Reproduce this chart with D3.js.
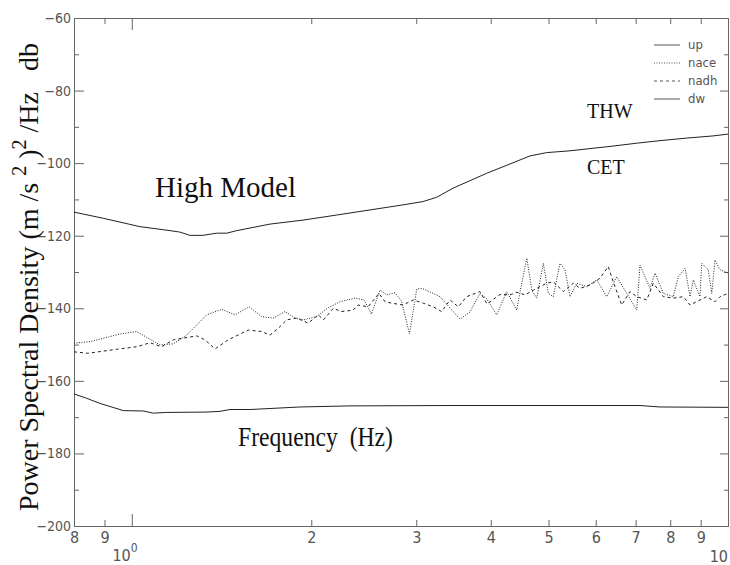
<!DOCTYPE html>
<html>
<head>
<meta charset="utf-8">
<script src="https://cdn.jsdelivr.net/npm/d3@7"></script>
<style>
  body { margin: 0; background: #fff; }
  svg { display: block; }
  .tick text { font-family: "Liberation Sans Narrow", "DejaVu Sans Condensed", sans-serif; fill: #555; }
  .note { font-family: "Liberation Serif", "Times New Roman", serif; fill: #111; }
</style>
</head>
<body>
<div id="chart"></div>
<script>
// High Model (up)
const upFreq = [0.8, 0.896, 1.032, 1.159, 1.204, 1.252, 1.316, 1.388, 1.443, 1.5, 1.705, 1.937, 2.207, 2.509, 2.85, 3.079, 3.246, 3.458, 3.938, 4.359, 4.656, 4.965, 5.433, 5.937, 6.414, 7.03, 7.691, 8.523, 9.437, 10];
const upDb = [-113.5, -115.2, -117.5, -118.6, -119.0, -119.9, -119.9, -119.3, -119.3, -118.6, -116.8, -115.7, -114.3, -112.9, -111.5, -110.6, -109.4, -106.9, -102.8, -99.9, -98.0, -97.1, -96.6, -95.9, -95.3, -94.5, -93.8, -93.1, -92.5, -92.0];

// nace (dotted)
const naceFreq = [0.8, 0.851, 0.955, 1.019, 1.059, 1.115, 1.174, 1.236, 1.336, 1.415, 1.49, 1.573, 1.652, 1.727, 1.807, 1.878, 1.94, 2.042, 2.133, 2.235, 2.368, 2.452, 2.523, 2.608, 2.679, 2.764, 2.834, 2.923, 3.006, 3.067, 3.204, 3.288, 3.552, 3.692, 3.837, 3.938, 4.093, 4.255, 4.423, 4.48, 4.568, 4.598, 4.687, 4.778, 4.901, 4.997, 5.093, 5.226, 5.328, 5.433, 5.575, 5.794, 6.023, 6.26, 6.507, 6.764, 7.03, 7.119, 7.4, 7.544, 7.79, 8.097, 8.254, 8.472, 8.637, 8.747, 8.975, 9.035, 9.268, 9.391, 9.511, 9.696, 9.886, 10];
const naceDb = [-149.6, -149.2, -147.1, -146.4, -148.0, -150.1, -149.8, -147.4, -141.8, -140.3, -141.8, -139.6, -142.3, -142.7, -140.9, -142.7, -143.2, -142.3, -139.9, -138.2, -137.2, -137.7, -141.6, -135.0, -136.3, -135.7, -138.0, -147.1, -134.7, -134.5, -135.9, -136.8, -143.0, -141.0, -135.9, -137.4, -141.8, -135.4, -140.5, -135.4, -128.5, -126.2, -135.0, -137.2, -127.6, -135.9, -136.8, -127.6, -129.4, -136.8, -133.1, -134.0, -132.2, -136.8, -131.3, -135.9, -140.5, -128.1, -134.5, -130.3, -135.9, -136.8, -131.3, -129.0, -136.8, -132.2, -136.8, -127.6, -129.4, -135.9, -126.7, -129.4, -129.9, -130.3];

// nadh (dashed)
const nadhFreq = [0.8, 0.844, 0.943, 1.019, 1.073, 1.122, 1.174, 1.285, 1.327, 1.379, 1.451, 1.568, 1.652, 1.705, 1.761, 1.819, 1.891, 1.977, 2.055, 2.096, 2.178, 2.246, 2.352, 2.395, 2.49, 2.598, 2.659, 2.732, 2.85, 2.966, 3.083, 3.204, 3.31, 3.418, 3.529, 3.645, 3.837, 3.943, 4.146, 4.309, 4.423, 4.568, 4.716, 4.839, 4.965, 5.093, 5.295, 5.503, 5.648, 5.87, 6.101, 6.298, 6.421, 6.632, 6.848, 7.03, 7.306, 7.495, 7.79, 8.097, 8.414, 8.637, 8.975, 9.211, 9.511, 9.696, 10];
const nadhDb = [-152.0, -152.4, -151.3, -150.6, -149.5, -150.6, -148.7, -147.6, -148.7, -151.2, -148.7, -146.0, -146.4, -147.4, -145.5, -143.2, -142.7, -144.1, -141.8, -143.2, -140.0, -140.9, -140.5, -139.1, -139.6, -135.9, -138.2, -138.6, -139.1, -137.7, -138.6, -139.6, -140.9, -137.7, -139.6, -136.8, -135.4, -138.8, -136.2, -136.3, -135.6, -136.3, -135.0, -134.0, -133.1, -132.7, -135.4, -133.1, -134.5, -133.6, -131.7, -128.5, -132.7, -139.1, -135.4, -136.8, -137.7, -133.1, -136.8, -137.2, -136.8, -139.1, -137.7, -136.8, -138.2, -136.8, -135.9];

// Low Model (dw)
const dwFreq = [0.8, 0.84, 0.884, 0.968, 1.045, 1.087, 1.144, 1.336, 1.406, 1.461, 1.578, 1.915, 2.323, 3.418, 5.029, 7.119, 7.691, 10];
const dwDb = [-163.6, -164.8, -166.2, -168.2, -168.3, -168.9, -168.7, -168.6, -168.4, -167.9, -167.9, -167.2, -166.9, -166.8, -166.8, -166.8, -167.2, -167.3];

const xTicks = [0.8, 0.9, 1, 2, 3, 4, 5, 6, 7, 8, 9, 10];
const xTickLabels = ["8", "9", "", "2", "3", "4", "5", "6", "7", "8", "9", ""];
const yMajor = [-200, -180, -160, -140, -120, -100, -80, -60];
const yMinor = [-190, -170, -150, -130, -110, -90, -70];
const legendNames = ["up", "nace", "nadh", "dw"];
const legendDash = [null, "1,1.5", "3,3", null];

const width = 730, height = 565;
const plotLeft = 74, plotRight = 728, plotTop = 18, plotBottom = 526;

const svg = d3.select("#chart").append("svg")
  .attr("width", width)
  .attr("height", height);

const x = d3.scaleLog().domain([0.8, 10]).range([plotLeft, plotRight]);
const y = d3.scaleLinear().domain([-200, -60]).range([plotBottom, plotTop]);

// frame axes
function styleAxis(g) {
  g.select(".domain").attr("stroke", "#666");
  g.selectAll(".tick line").attr("stroke", "#666");
}

const xAxisB = svg.append("g")
  .attr("transform", `translate(0,${plotBottom})`)
  .call(d3.axisBottom(x).tickValues(xTicks).tickSize(-6).tickSizeOuter(0).tickPadding(6)
    .tickFormat((d, i) => xTickLabels[i]))
  .call(styleAxis);
xAxisB.selectAll(".tick text").attr("font-size", 16);
xAxisB.selectAll(".tick line").filter(d => d === 1).attr("y2", -12);

const xAxisT = svg.append("g")
  .attr("transform", `translate(0,${plotTop})`)
  .call(d3.axisTop(x).tickValues(xTicks).tickSize(-6).tickSizeOuter(0).tickFormat(""))
  .call(styleAxis);
xAxisT.selectAll(".tick line").filter(d => d === 1).attr("y2", 12);

const yAxisL = svg.append("g")
  .attr("transform", `translate(${plotLeft},0)`)
  .call(d3.axisLeft(y).tickValues(yMajor).tickSize(-10).tickSizeOuter(0).tickPadding(3))
  .call(styleAxis);
yAxisL.selectAll(".tick text").attr("font-size", 14);
svg.append("g")
  .attr("transform", `translate(${plotLeft},0)`)
  .call(d3.axisLeft(y).tickValues(yMinor).tickSize(-5).tickSizeOuter(0).tickFormat(""))
  .call(styleAxis);

svg.append("g")
  .attr("transform", `translate(${plotRight},0)`)
  .call(d3.axisRight(y).tickValues(yMajor).tickSize(-8).tickSizeOuter(0).tickFormat(""))
  .call(styleAxis);
svg.append("g")
  .attr("transform", `translate(${plotRight},0)`)
  .call(d3.axisRight(y).tickValues(yMinor).tickSize(-4).tickSizeOuter(0).tickFormat(""))
  .call(styleAxis);

// decade labels 10^0 and 10
const decade = svg.append("g")
  .attr("font-family", "'Liberation Sans Narrow', 'DejaVu Sans Condensed', sans-serif")
  .attr("fill", "#555");
decade.append("text")
  .attr("x", x(1) - 1).attr("y", 561)
  .attr("text-anchor", "end").attr("font-size", 16).text("10");
decade.append("text")
  .attr("x", x(1) - 1).attr("y", 552)
  .attr("font-size", 12).text("0");
decade.append("text")
  .attr("x", x(10)).attr("y", 562)
  .attr("text-anchor", "end")
  .attr("font-size", 16).text("10");

// series
const line = d3.line().x(d => x(d[0])).y(d => y(d[1]));
const series = [
  { f: upFreq, v: upDb, dash: null },
  { f: naceFreq, v: naceDb, dash: "1,1.5" },
  { f: nadhFreq, v: nadhDb, dash: "3,3" },
  { f: dwFreq, v: dwDb, dash: null }
];
svg.append("g").selectAll("path")
  .data(series)
  .join("path")
  .attr("d", s => line(s.f.map((f, i) => [f, s.v[i]])))
  .attr("fill", "none")
  .attr("stroke", "#222")
  .attr("stroke-width", 1)
  .attr("stroke-dasharray", s => s.dash);

// legend
const legend = svg.append("g").attr("transform", "translate(654,45)");
legendNames.forEach((name, i) => {
  legend.append("line")
    .attr("x1", 0).attr("x2", 26)
    .attr("y1", i * 18).attr("y2", i * 18)
    .attr("stroke", "#555")
    .attr("stroke-dasharray", legendDash[i]);
  legend.append("text")
    .attr("x", 34).attr("y", i * 18 + 4)
    .attr("font-family", "'Liberation Sans Narrow', 'DejaVu Sans Condensed', sans-serif")
    .attr("font-size", 13)
    .attr("fill", "#555")
    .text(name);
});

// annotations
svg.append("text").attr("class", "note").attr("x", 155).attr("y", 197).attr("font-size", 29).text("High Model");
svg.append("text").attr("class", "note").attr("x", 587).attr("y", 118).attr("font-size", 20).text("THW");
svg.append("text").attr("class", "note").attr("x", 587).attr("y", 174).attr("font-size", 20).text("CET");
svg.append("text").attr("class", "note").attr("x", 238).attr("y", 446).attr("font-size", 27)
  .attr("textLength", 155).attr("lengthAdjust", "spacingAndGlyphs")
  .attr("xml:space", "preserve").text("Frequency  (Hz)");

// y axis title
const yTitle = svg.append("text")
  .attr("class", "note")
  .attr("transform", "translate(38,511) rotate(-90)")
  .attr("font-size", 28)
  .attr("xml:space", "preserve");
yTitle.append("tspan").text("Power Spectral Density (m /s ");
yTitle.append("tspan").attr("dy", -12).attr("font-size", 20).text("2");
yTitle.append("tspan").attr("dy", 12).text(" )");
yTitle.append("tspan").attr("dy", -12).attr("font-size", 20).text("2");
yTitle.append("tspan").attr("dy", 12).text(" /Hz   db");
</script>
</body>
</html>
